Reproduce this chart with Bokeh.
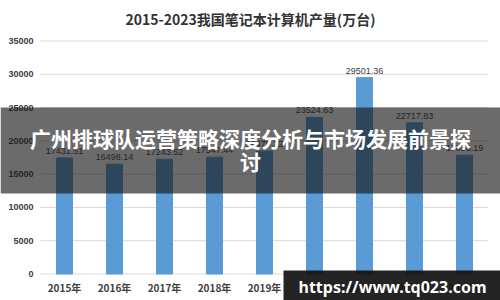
from bokeh.plotting import figure
from bokeh.models import ColumnDataSource, Range1d, Label, BoxAnnotation
from bokeh.core.properties import value
from bokeh.embed import file_html
from bokeh.resources import INLINE

# ---- data ----
years = ["2015年", "2016年", "2017年", "2018年", "2019年",
         "2020年", "2021年", "2022年", "2023年"]
production = [17431.51, 16498.14, 17243.52, 17547.44, 18479.22,
              23524.63, 29501.36, 22717.83, 17853.19]
y_ticks = [0, 5000, 10000, 15000, 20000, 25000, 30000, 35000]
y_tick_labels = ["0", "5000", "10000", "15000", "20000", "25000", "30000", "35000"]
title_text = "2015-2023我国笔记本计算机产量(万台)"
banner_line1 = "广州排球队运营策略深度分析与市场发展前景探"
banner_line2 = "讨"
url_text = "https://www.tq023.com"

W, H = 500, 300
# layout of the plotting area inside the canvas (pixels)
PL, PR, PT, PB = 39, 489, 40.5, 273.5
n = len(years)
ymax = 35000
px_x = (PR - PL) / n                  # pixels per category
px_y = (PB - PT) / ymax               # pixels per unit
x_lo = -0.5 - PL / px_x
x_hi = x_lo + W / px_x
y_lo = -(H - PB) / px_y
y_hi = PB / px_y

xs = list(range(n))
labels = ["%.2f" % v for v in production]
src = ColumnDataSource(dict(x=xs, top=production, lab=labels, year=years))

p = figure(width=W, height=H, x_range=Range1d(x_lo, x_hi),
           y_range=Range1d(y_lo, y_hi), output_backend="svg",
           toolbar_location=None, x_axis_type=None, y_axis_type=None,
           min_border=0)
p.background_fill_color = "white"
p.border_fill_color = "white"
p.outline_line_color = None
p.xgrid.visible = False
p.ygrid.visible = False

# gridlines at tick values
gx0 = -0.5 + 1 / px_x
gx1 = n - 0.5 - 1 / px_x
p.segment(x0=[gx0] * len(y_ticks), x1=[gx1] * len(y_ticks),
          y0=y_ticks, y1=y_ticks, line_color="#d9d9d9", line_width=1)

# bars + value labels
p.vbar(x="x", top="top", width=0.32, source=src, color="#5B9BD5")
p.text(x="x", y="top", text="lab", source=src, y_offset=-4,
       text_align="center", text_baseline="bottom",
       text_font=value("Liberation Sans"), text_font_size="9px",
       text_color="#404040")

# y tick labels
p.text(x=[x_lo] * len(y_ticks), y=y_ticks, text=y_tick_labels, x_offset=33,
       text_align="right", text_baseline="middle",
       text_font=value("Liberation Sans"), text_font_size="9px",
       text_font_style="bold", text_color="#404040")
# x category labels
p.text(x="x", y=0, text="year", source=src, y_offset=13,
       text_align="center", text_baseline="middle",
       text_font=value("Noto Sans CJK SC"), text_font_size="10px",
       text_font_style="bold", text_color="#404040")

# title
p.add_layout(Label(x=W / 2, y=H - 18, x_units="screen", y_units="screen",
                   text=title_text, text_align="center",
                   text_baseline="middle", text_font="Noto Sans CJK SC",
                   text_font_size="14px", text_font_style="bold",
                   text_color="#333333"))

# dark translucent banner
p.add_layout(BoxAnnotation(left=0, right=W, top=H - 107, bottom=H - 193,
                           left_units="screen", right_units="screen",
                           top_units="screen", bottom_units="screen",
                           fill_color="#141414", fill_alpha=0.63,
                           line_color=None, level="overlay"))
p.add_layout(Label(x=W / 2, y=H - 137, x_units="screen", y_units="screen",
                   text=banner_line1, text_align="center",
                   text_baseline="middle", text_font="Noto Sans CJK SC",
                   text_font_size="21px", text_font_style="bold",
                   text_color="white", level="overlay"))
p.add_layout(Label(x=W / 2, y=H - 160, x_units="screen", y_units="screen",
                   text=banner_line2, text_align="center",
                   text_baseline="middle", text_font="Noto Sans CJK SC",
                   text_font_size="21px", text_font_style="bold",
                   text_color="white", level="overlay"))

# url box bottom-right
p.add_layout(BoxAnnotation(left=283, right=W, top=H - 270, bottom=0,
                           left_units="screen", right_units="screen",
                           top_units="screen", bottom_units="screen",
                           fill_color="#111111", fill_alpha=0.92,
                           line_color=None, level="overlay"))
p.add_layout(Label(x=392, y=H - 286, x_units="screen", y_units="screen",
                   text=url_text, text_align="center",
                   text_baseline="middle", text_font="Noto Sans",
                   text_font_size="16px", text_font_style="bold",
                   text_color="white", level="overlay"))

open("out.html", "w").write(file_html(p, INLINE))
